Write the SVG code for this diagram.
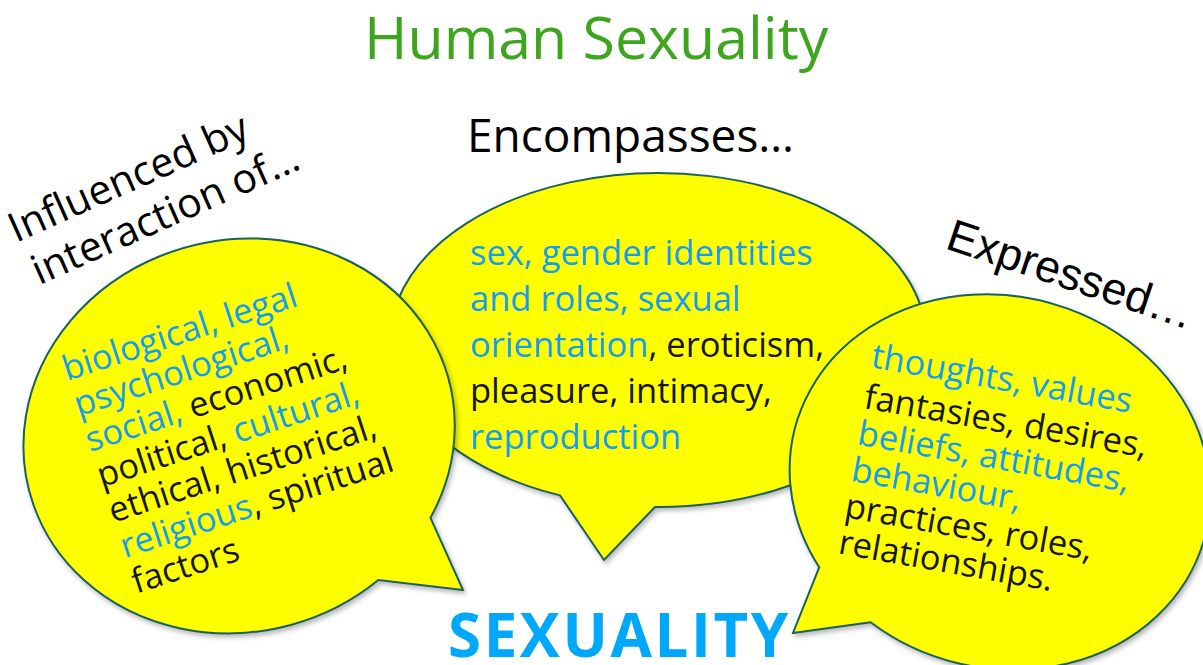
<svg xmlns="http://www.w3.org/2000/svg" width="1203" height="665" viewBox="0 0 1203 665">
  <defs>
    <filter id="soft" x="-10%" y="-10%" width="130%" height="130%">
      <feDropShadow dx="2" dy="3" stdDeviation="2.5" flood-color="#000" flood-opacity="0.28"/>
    </filter>
    <style>
      .sans { font-family: "Open Sans", "Noto Sans", sans-serif; }
      .arial { font-family: "Liberation Sans", Arial, sans-serif; }
      .bubble { fill: #ffff00; stroke: #1b5e5e; stroke-width: 2; stroke-linejoin: miter; filter: url(#soft); }
      .body { font-size: 34.5px; }
      .blue { fill: #129dee; }
      .ink { fill: #161616; }
    </style>
  </defs>

  <rect width="1203" height="665" fill="#ffffff"/>

  <!-- heading -->
  <g id="title">
    <text class="sans" x="364" y="59" font-size="59" fill="#3ea51e">Human Sexuality</text>
  </g>

  <!-- captions above the bubbles -->
  <g id="label-influenced">
    <g transform="translate(16,243) rotate(-24)">
      <text class="sans" x="0" y="0" font-size="41" fill="#000">Influenced by</text>
      <text class="sans" x="4" y="48" font-size="41" fill="#000">interaction of…</text>
    </g>
  </g>
  <g id="label-encompasses">
    <text class="sans" x="467" y="152" font-size="46" fill="#000">Encompasses…</text>
  </g>
  <g id="label-expressed">
    <text class="arial" transform="translate(944,248) rotate(18.5)" font-size="45" fill="#000">Expressed…</text>
  </g>

  <!-- middle speech bubble (drawn first, sits behind the others) -->
  <g id="bubble-encompasses">
    <path class="bubble" d="M 655,507 L 604,560 L 560,495.4 A 268 167 0 1 1 655,507 Z"/>
    <g class="sans body">
      <text x="470" y="265" class="blue">sex, gender identities</text>
      <text x="470" y="311" class="blue">and roles, sexual</text>
      <text x="470" y="357"><tspan class="blue">orientation</tspan><tspan class="ink">, eroticism,</tspan></text>
      <text x="470" y="403" class="ink">pleasure, intimacy,</text>
      <text x="470" y="449" class="blue">reproduction</text>
    </g>
  </g>

  <!-- left speech bubble -->
  <g id="bubble-factors">
    <path class="bubble" d="M 430.5,517.8 L 463,590 L 378.3,580 A 217 196 -15 1 1 430.5,517.8 Z"/>
    <g class="sans body" transform="translate(67,381) rotate(-18)">
      <text x="0" y="0" class="blue">biological, legal</text>
      <text x="0" y="37.3" class="blue">psychological,</text>
      <text x="0" y="74.6"><tspan class="blue">social,</tspan><tspan class="ink"> economic,</tspan></text>
      <text x="0" y="111.9"><tspan class="ink">political, </tspan><tspan class="blue">cultural,</tspan></text>
      <text x="0" y="149.2" class="ink">ethical, historical,</text>
      <text x="0" y="186.5"><tspan class="blue">religious</tspan><tspan class="ink">, spiritual</tspan></text>
      <text x="0" y="223.8" class="ink">factors</text>
    </g>
  </g>

  <!-- right speech bubble -->
  <g id="bubble-expressed">
    <path class="bubble" d="M 870.6,622.3 L 793,633 L 819.2,567.3 A 212 186 15 1 1 870.6,622.3 Z"/>
    <g class="sans body" transform="translate(870,367) rotate(10)">
      <text x="0" y="0" class="blue">thoughts, values</text>
      <text x="0" y="41.6" class="ink">fantasies, desires,</text>
      <text x="0" y="78.5" class="blue">beliefs, attitudes,</text>
      <text x="0" y="115.4" class="blue">behaviour,</text>
      <text x="0" y="152.3" class="ink">practices, roles,</text>
      <text x="0" y="189.2" class="ink">relationships.</text>
    </g>
  </g>

  <!-- footer word -->
  <g id="footer-sexuality">
    <text class="sans" x="448" y="657" font-size="60" font-weight="700" fill="#00a8fb" letter-spacing="2.6">SEXUALITY</text>
  </g>
</svg>
